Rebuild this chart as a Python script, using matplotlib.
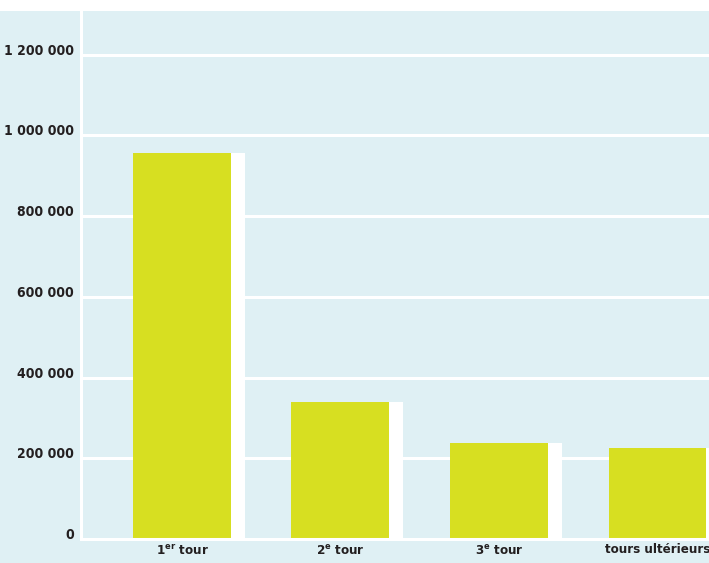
import numpy as np
import matplotlib
matplotlib.use('Agg')
import matplotlib.pyplot as plt
from matplotlib.patches import Rectangle

plt.rcParams['mathtext.fontset'] = 'custom'
plt.rcParams['mathtext.rm'] = 'DejaVu Sans:weight=bold:stretch=condensed'
plt.rcParams['mathtext.default'] = 'rm'

# data
categories = [r'1$^{er}$ tour', r'2$^{e}$ tour', r'3$^{e}$ tour', 'tours ultérieurs']
values = [957000, 340000, 238000, 226000]
yticks = [0, 200000, 400000, 600000, 800000, 1000000, 1200000]
ytick_labels = ['0', '200 000', '400 000', '600 000', '800 000', '1 000 000', '1 200 000']

bg = '#dff0f4'
bar_color = '#d7df21'
text_color = '#231f20'

fig = plt.figure(figsize=(7.09, 5.63), dpi=100, facecolor=bg)
# white strip at the very top
fig.patches.append(Rectangle((0, 1 - 11 / 563), 1, 11 / 563, transform=fig.transFigure,
                             facecolor='white', edgecolor='none', zorder=0))

ax = fig.add_axes([81 / 709, 23.75 / 563, 1 - 81 / 709, (563 - 11 - 23.75) / 563])
ax.set_facecolor(bg)

x = np.arange(len(categories))
width = 0.618
shift = 0.088
# white "shadow" behind each bar
ax.bar(x + shift, values, width=width, color='white', zorder=2)
ax.bar(x, values, width=width, color=bar_color, zorder=3)

ax.set_xlim(-0.637, 3.325)
ax.set_ylim(0, 1308000)

ax.set_axisbelow(True)
ax.yaxis.grid(True, color='white', linewidth=2.2)
ax.xaxis.grid(False)

for side in ['top', 'right']:
    ax.spines[side].set_visible(False)
for side in ['left', 'bottom']:
    ax.spines[side].set_color('white')
    ax.spines[side].set_linewidth(2.2)
    ax.spines[side].set_zorder(4)

font = dict(family='DejaVu Sans', stretch='condensed', weight='bold', color=text_color)

ax.set_yticks(yticks)
ax.set_yticklabels(ytick_labels, fontsize=10, va='baseline', **font)
ax.set_xticks(x)
ax.set_xticklabels(categories, fontsize=9.5, **font)
ax.tick_params(axis='y', length=0, pad=5)
ax.tick_params(axis='x', length=0, pad=3)

fig.savefig('out.png', dpi=100, facecolor=fig.get_facecolor())
